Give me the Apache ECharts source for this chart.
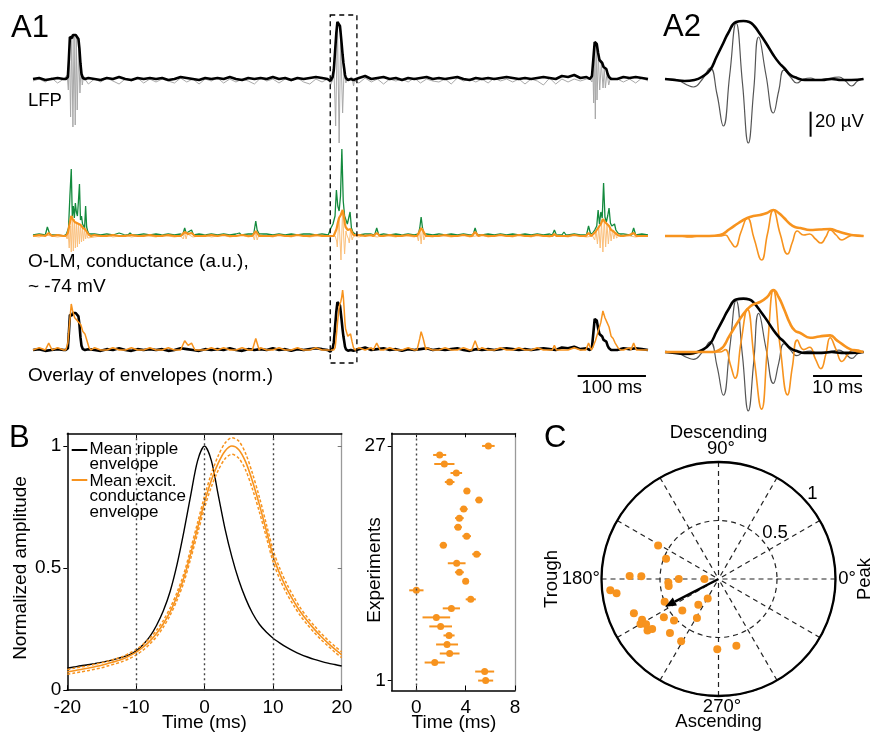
<!DOCTYPE html>
<html>
<head>
<meta charset="utf-8">
<script src="https://cdn.jsdelivr.net/npm/echarts@6.0.0/dist/echarts.min.js"></script>
<style>
html,body{margin:0;padding:0;background:#fff;}
#chart{width:871px;height:732px;}
</style>
</head>
<body>
<div id="chart"></div>
<script>
// ================= DATA =================
// ---- Panel A1 : 900 ms recording, baseline samples every 9 ms ----
const NOISE_STEP = 9;
const lfpEnvNoise = [
  0, 1,-1, 0, 1, 0, 0, 0, 0, 1,
  0,-1, 1, 0, 2, 0,-1, 1, 0, 1,
  0, 1,-1, 0, 2, 1, 0,-1, 1, 0,
  1, 0, 2, 0,-1, 1, 0, 1, 0, 2,
  0, 1,-1, 1, 0, 1, 2, 1, 0, 0,
  0, 0, 0, 1, 3, 0, 1, 2, 0, 1,
 -1, 1, 0, 1, 2, 0, 1, 0, 1, 2,
  0,-1, 1, 0, 1, 0, 1, 2, 1, 0,
  1, 0, 1, 2, 1, 0, 3, 2, 4, 1,
  2, 0, 0, 0, 0, 0, 2, 1, 2, 1,
  0];
const lfpRawNoise = [
 -2, 0,-3, 1,-4, 0, 0, 0, 0,-5,
  0,-3, 1,-2,-5, 0,-2, 1,-4, 0,
 -3, 0,-2,-4, 1,-3, 0,-5, 0,-2,
  1,-4, 0,-3, 0,-2,-5, 1,-2, 0,
 -4, 0,-2, 1,-3,-5, 0,-3, 0, 0,
  0, 0, 0,-4, 1,-3, 0,-5, 0,-2,
  0,-3, 1,-4, 0,-2,-3, 0,-5, 1,
 -2, 0,-3, 0,-4, 1,-2, 0,-3, 0,
 -5, 0,-2,-6, 1,-5, 0,-3, 0,-2,
  0, 0, 0, 0, 0, 0,-3, 0,-4, 1,
 -2];
const gExcNoise = [
  1, 2, 1, 2, 1, 0, 0, 0, 0, 1,
  2, 1, 2, 1, 3, 1, 2, 1, 2, 1,
  2, 1, 2, 1, 2, 2, 1, 2, 1, 2,
  1, 2, 1, 2, 1, 2, 1, 2, 2, 1,
  2, 1, 2, 1, 2, 2, 1, 2, 1, 1,
  2, 1, 2, 1, 2, 2, 1, 2, 1, 2,
  1, 2, 1, 2, 2, 1, 2, 1, 2, 1,
  2, 1, 2, 1, 2, 1, 2, 1, 2, 1,
  2, 1, 2, 1, 2, 1, 2, 1, 2, 1,
  2, 1, 2, 1, 2, 1, 2, 1, 2, 2,
  1];
const gEnvNoise = [
  0, 1, 0, 0, 1, 0, 0, 0, 0, 0,
  1, 0, 0, 1, 0, 0, 1, 0, 0, 1,
  0, 0, 1, 0, 0, 1, 0, 0, 0, 1,
  0, 1, 0, 0, 1, 0, 0, 1, 0, 0,
  1, 0, 0, 1, 0, 0, 1, 0, 0, 0,
  0, 0, 0, 1, 0, 1, 0, 0, 1, 0,
  0, 1, 0, 0, 1, 0, 0, 1, 0, 0,
  1, 0, 0, 1, 0, 0, 1, 0, 0, 1,
  0, 0, 1, 0, 0, 1, 0, 0, 1, 0,
  1, 0, 0, 0, 0, 0, 0, 1, 0, 0,
  0];
const gFiltNoise = [
  0,-1, 1, 0,-1, 0, 0, 0, 0, 1,
 -1, 0, 1,-1, 0, 1,-1, 0, 1, 0,
 -1, 1, 0,-1, 0, 1,-1, 0, 1,-1,
  0, 1,-1, 0, 1,-1, 0, 1, 0,-1,
  1, 0,-1, 1, 0,-1, 0, 1, 0, 0,
  0, 0, 0,-1, 1, 0,-1, 1, 0,-1,
  1, 0,-1, 1, 0,-1, 1, 0,-1, 0,
  1,-1, 0, 1,-1, 0, 1, 0,-1, 1,
  0,-1, 1, 0,-1, 1, 0,-1, 1, 0,
 -1, 0, 0, 0, 0, 0, 1, 0,-1, 0,
  0];

// ripple events in A1 ([ms, a.u.])
const lfpEnvEvents = [
  [[48,0],[51,2],[52.5,20],[54,42],[55.5,44],[57,41],[58.5,44],[60.5,43],[62.5,44],[64.5,43],[66.5,40],[68,30],[69.5,15],[71,5],[73,1],[76,0]],
  [[815,0],[818,3],[820,20],[822,37],[823.5,39],[825,35],[827,26],[829,19],[831,17],[833,16],[835,12],[837,11],[839,10],[841,5],[843,2],[846,0]]
];
const lfpRawEvents = [
  [[47,0],[50,4],[51.7,-11],[53.4,30],[55,-38],[56.7,44],[58.4,-48],[60.1,44],[61.8,-46],[63.3,42],[64.7,-31],[66.7,30],[68.7,-14],[70.4,12],[72.1,-6],[74,3],[76,0]],
  [[815,0],[818,-3],[819.3,10],[820.5,-24],[821.7,30],[822.9,-40],[824.1,36],[825.4,-21],[827.3,24],[829.3,-11],[831.7,16],[834.2,-9],[836,11],[837.6,-9],[840,6],[842.5,-6],[845,1],[847,0]]
];
const gExcEvents = [
  [[19,1],[21,9],[23,10],[25,1]],
  [[49,2],[52,8],[54,40],[56,67],[57.5,20],[59,30],[60.5,18],[62,33],[63.5,24],[65,20],[66.5,35],[68,52],[69.5,16],[71,20],[72.5,12],[74,14],[75.5,8],[77,30],[78.5,9],[80,5],[82,2]],
  [[139,1],[142,3],[145,1]],
  [[219,1],[222,8],[224,3],[227,4],[229,3],[232,6],[235,1]],
  [[299,1],[302,3],[305,1]],
  [[323,2],[326,15],[328,6],[331,2]],
  [[433,2],[436,8],[439,12],[442,20],[444,46],[446,30],[448,25],[450,40],[452,87],[454,35],[456,20],[458,16],[460,12],[462,18],[464,24],[466,8],[468,4],[471,2]],
  [[500,1],[503,8],[506,1]],
  [[564,2],[566,8],[568,19],[570,8],[572,2]],
  [[644,1],[647,8],[650,1]],
  [[760,1],[763,6],[766,1]],
  [[774,1],[777,4],[780,1]],
  [[810,1],[813,10],[816,2]],
  [[819,3],[822,6],[825,10],[827,26],[829,12],[831,24],[833,18],[835,53],[837,19],[839,14],[841,20],[843,28],[845,13],[847,10],[849,8],[851,12],[853,6],[856,3],[859,2]],
  [[876,1],[879,8],[882,1]]
];
const gEnvEvents = [
  [[18,0],[23,3],[28,0]],
  [[48,0],[51,3],[53,10],[56,20],[58,17],[61,14],[64,13],[67,12],[70,11],[73,8],[76,7],[79,4],[82,1],[85,0]],
  [[216,0],[222,4],[227,2],[232,3],[237,0]],
  [[321,0],[326,5],[331,0]],
  [[498,0],[503,3],[508,0]],
  [[562,0],[566,5],[568,8],[571,5],[575,0]],
  [[642,0],[647,4],[652,0]],
  [[760,0],[763,2],[766,0]],
  [[809,0],[813,3],[817,0]],
  [[819,1],[823,4],[827,8],[831,12],[834,17],[837,14],[840,12],[843,10],[846,6],[849,5],[852,3],[856,1],[860,0]],
  [[875,0],[879,3],[883,0]]
];
const gFiltEvents = [
  [[48,0],[50,-3],[51.5,3],[53,-12],[54.5,10],[56,-16],[57.5,20],[59,-15],[60.5,17],[62,-12],[63.5,14],[65,-11],[66.5,13],[68,-8],[69.5,11],[71,-6],[72.5,8],[74,-5],[75.5,7],[77,-3],[78.5,4],[80,-2],[82,0]],
  [[218,0],[220,-3],[222,4],[224,-3],[226,2],[228,0]],
  [[322,0],[324,-4],[326,5],[328,-4],[330,0]],
  [[562,0],[564,-5],[566,6],[568,-8],[570,8],[572,-4],[574,0]],
  [[820,0],[822,-4],[824,5],[826,-8],[828,9],[830,-12],[832,13],[834,-16],[836,17],[838,-11],[840,12],[842,-8],[844,9],[846,-5],[848,6],[850,-3],[852,4],[854,-2],[857,0]]
];

// ---- Panel A2 : zoomed ripple, ms from window start ----
const a2Lfp = [[0,0],[1.5,0],[3,-2],[4.5,-6],[5.8,-8],[7.5,-1],[9.2,11],[10.6,-15],[11.9,-47],[13.2,4],[14.5,56],[15.8,-4],[17.0,-64],[18.1,-11],[19.1,42],[20.6,4],[22.1,-34],[23.2,-12],[24.3,9],[25.6,2],[26.9,-4],[28.3,0],[29.7,1],[31,-1],[32.5,0],[34,1],[35.5,2],[36.8,-2],[38.1,-7],[39.3,-2],[40.5,0]];
const a2LfpEnv = [[0,0],[2,-1],[4,-2],[6,-1],[7.5,2],[9.2,9],[10.5,22],[11.9,36],[12.9,46],[14.5,57],[16,58],[17.2,57],[18.2,53],[19.1,47],[20.6,36],[22.1,24],[23.3,16],[24.3,11],[25.6,4],[26.9,1],[28.5,-1],[30,-1],[32,-1],[34,0],[36,-1],[38,-1],[40.5,0]];
const a2GFilt = [[0,0],[3,0],[5,-1],[7,0],[9,0],[11.2,0],[12.3,1],[13.3,-5],[14.3,-11],[15.5,4],[16.8,18],[18.2,-3],[19.7,-24],[20.9,2],[22.1,26],[23.5,2],[25,-18],[26,-6],[27,5],[28.3,1],[29.5,2],[30.7,-3],[31.8,-7],[32.8,-1],[33.7,6],[34.9,1],[36.1,-4],[37.3,-1],[38.5,1],[40.5,0]];
const a2GEnv = [[0,0],[5,0],[9,0],[11.2,1],[13.2,7],[15,13],[16.8,18],[18,20],[19.4,21],[20.8,23],[22.1,26],[23.2,23],[24.3,18],[25.5,12],[26.5,9],[27.6,8],[29.6,6],[31.5,6.5],[33.7,7],[35,5],[36,3.5],[38,1],[40.5,0]];
const a2Offset = 431;            // ms: where the A2 window sits in A1
const boxWindow = [435, 474];    // ms: dashed box in A1
const scaleBarA1 = [797, 100];   // start, length (ms)
const scaleBarA2 = [30.2, 10];   // start, length (ms)
const uvBar = {t: 29.7, v0: -57.7, len: 25};  // 25 a.u. = 20 µV
const OVL_LFP_GAIN = 0.84, OVL_G_GAIN = 2.3;  // normalisation in overlay rows
const A2_LFP_GAIN = 0.92, A2_G_GAIN = 2.38;

// ---- Panel B ----
const envTime = [-20,-19,-18,-17,-16,-15,-14,-13,-12,-11,-10,-9,-8,-7,-6,-5,-4,-3,-2,-1,0,1,2,3,4,5,6,7,8,9,10,11,12,13,14,15,16,17,18,19,20];
const rippleEnvMean = [0.090,0.095,0.100,0.104,0.109,0.114,0.120,0.127,0.135,0.145,
  0.160,0.185,0.218,0.265,0.325,0.405,0.515,0.650,0.800,0.940,
  1.000,
  0.940,0.800,0.660,0.545,0.450,0.375,0.315,0.270,0.238,0.213,
  0.193,0.175,0.160,0.147,0.136,0.126,0.118,0.111,0.105,0.099];
const gEnvMean = [0.075,0.080,0.085,0.090,0.096,0.102,0.110,0.118,0.127,0.140,
  0.155,0.175,0.200,0.232,0.272,0.322,0.385,0.460,0.560,0.665,
  0.770,
  0.860,0.930,0.980,1.000,0.985,0.935,0.855,0.760,0.655,0.550,
  0.475,0.415,0.365,0.320,0.283,0.250,0.220,0.193,0.168,0.145];
const gEnvCI = [0.010,0.010,0.010,0.010,0.010,0.010,0.010,0.010,0.010,0.011,
  0.011,0.012,0.012,0.013,0.014,0.015,0.016,0.018,0.020,0.022,
  0.024,
  0.027,0.030,0.032,0.034,0.035,0.034,0.032,0.030,0.027,0.024,
  0.022,0.020,0.018,0.016,0.015,0.014,0.013,0.012,0.012,0.012];
const refLinesB = [-10, 0, 10];
const bXTicks = [-20, -10, 0, 10, 20];
const bYTicks = [0, 0.5, 1];

// experiments 1..27: lag (ms) and error
const expLag = [5.62,5.54,1.49,2.70,2.49,2.65,1.97,1.62,2.84,4.41,0.0,4.0,3.49,3.27,4.89,2.19,4.08,3.38,3.49,3.84,5.08,4.10,2.70,3.24,2.27,1.89,5.84];
const expErr = [0.61,0.77,0.82,0.80,0.89,0.45,0.92,1.12,0.70,0.41,0.58,0.23,0.36,0.72,0.36,0.30,0.35,0.31,0.35,0.32,0.30,0.27,0.39,0.47,0.82,0.53,0.51];
const expXTicks = [0, 4, 8];
const expYTicks = [1, 27];

// ---- Panel C ----
const phaseR   = [0.59,0.48,0.76,0.66,0.34,0.43,0.43,0.12,0.93,0.88,0.50,0.19,0.28,0.41,0.78,0.57,0.52,0.38,0.74,0.77,0.75,0.71,0.62,0.62,0.60,0.59,0.73];
const phaseDeg = [151,159,178,178,180,184,188,180,186,188,203,241,232,221,202,215,223,241,208,210,216,217,228,239,269,285,212];
const meanVector = [0.514, 207.4];

// ================= BUILD =================
const FONT = '"Liberation Sans", Arial, Helvetica, sans-serif';
const ORANGE = '#f7931e', ORANGE_LIGHT = '#fbbf7a', GREEN = '#138a3d';

function mergeTrace(noise, events) {
  const out = [];
  noise.forEach((v, i) => {
    const t = i * NOISE_STEP;
    for (const ev of events) { if (t >= ev[0][0] && t <= ev[ev.length - 1][0]) return; }
    out.push([t, v]);
  });
  events.forEach(ev => ev.forEach(p => out.push(p)));
  return out.sort((a, b) => a[0] - b[0]);
}
const shift = (arr, dt) => arr.map(p => [p[0] + dt, p[1]]);

const lfpEnvTrace = mergeTrace(lfpEnvNoise, lfpEnvEvents.concat([shift(a2LfpEnv, a2Offset)]));
const lfpRawTrace = mergeTrace(lfpRawNoise, lfpRawEvents.concat([shift(a2Lfp, a2Offset)]));
const gExcTrace = mergeTrace(gExcNoise, gExcEvents);
const gEnvTrace = mergeTrace(gEnvNoise, gEnvEvents.concat([shift(a2GEnv, a2Offset)]));
const gFiltTrace = mergeTrace(gFiltNoise, gFiltEvents.concat([shift(a2GFilt, a2Offset)]));

function line(data, xi, yi, color, width, extra) {
  return Object.assign({
    type: 'line', xAxisIndex: xi, yAxisIndex: yi, data: data,
    symbol: 'none', showSymbol: false, silent: true, animation: false,
    lineStyle: {color: color, width: width}, itemStyle: {color: color}
  }, extra || {});
}
const hx = (g, min, max) => ({type: 'value', gridIndex: g, min: min, max: max, show: false});
const hy = (g, min, max) => ({type: 'value', gridIndex: g, min: min, max: max, show: false});
const gridBase = {containLabel: false, outerBoundsMode: 'none'};
const labelStyle = {fontSize: 19, color: '#000', fontFamily: FONT};

const grids = [
  {left: 33, top: 0, width: 615, height: 158},
  {left: 33, top: 140, width: 615, height: 192},
  {left: 33, top: 270, width: 615, height: 160},
  {left: 665, top: 0, width: 200, height: 158},
  {left: 665, top: 140, width: 200, height: 192},
  {left: 665, top: 272, width: 200, height: 160},
  {left: 67.3, top: 433.3, width: 274.4, height: 256.9},
  {left: 391.7, top: 433.3, width: 123.3, height: 257.2}
].map(g => Object.assign({}, gridBase, g));

const blackLine = {show: true, onZero: false, lineStyle: {color: '#000', width: 1.5}};
const grayLine = {show: true, onZero: false, lineStyle: {color: '#9a9a9a', width: 1.3}};
const xAxes = [
  hx(0, 0, 900), hx(1, 0, 900), hx(2, 0, 900),
  hx(3, 0, 40.8), hx(4, 0, 40.8), hx(5, 0, 40.8),
  {type: 'value', gridIndex: 6, min: -20, max: 20, position: 'bottom', axisLine: blackLine,
   axisTick: {inside: true, length: 5, customValues: bXTicks, lineStyle: {color: '#000'}},
   axisLabel: Object.assign({customValues: bXTicks, margin: 8}, labelStyle),
   splitLine: {show: false}},
  {type: 'value', gridIndex: 6, min: -20, max: 20, position: 'top', axisLine: blackLine,
   axisTick: {inside: true, length: 5, customValues: refLinesB, lineStyle: {color: '#000'}},
   axisLabel: {show: false}, splitLine: {show: false}},
  {type: 'value', gridIndex: 7, min: -2, max: 8, position: 'bottom', axisLine: blackLine,
   axisTick: {inside: true, length: 5, customValues: expXTicks, lineStyle: {color: '#000'}},
   axisLabel: Object.assign({customValues: expXTicks, margin: 8}, labelStyle),
   splitLine: {show: false}},
  {type: 'value', gridIndex: 7, min: -2, max: 8, position: 'top', axisLine: blackLine,
   axisTick: {inside: true, length: 4, customValues: expXTicks, lineStyle: {color: '#000'}},
   axisLabel: {show: false}, splitLine: {show: false}}
];
const yAxes = [
  hy(0, -79, 79), hy(1, -96, 96),
  hy(2, -80 / OVL_LFP_GAIN, 80 / OVL_LFP_GAIN), hy(2, -80 / OVL_G_GAIN, 80 / OVL_G_GAIN),
  hy(3, -79, 79), hy(4, -96, 96),
  hy(5, -80 / A2_LFP_GAIN, 80 / A2_LFP_GAIN), hy(5, -80 / A2_G_GAIN, 80 / A2_G_GAIN),
  {type: 'value', gridIndex: 6, min: 0, max: 1.052, position: 'left', axisLine: blackLine,
   axisTick: {show: true, inside: false, length: 4, customValues: bYTicks, lineStyle: {color: '#000'}},
   axisLabel: Object.assign({customValues: bYTicks, margin: 6}, labelStyle),
   splitLine: {show: false}},
  {type: 'value', gridIndex: 6, min: 0, max: 1.052, position: 'right', axisLine: grayLine,
   axisTick: {show: true, inside: true, length: 4, customValues: [0.5, 1], lineStyle: {color: '#777'}},
   axisLabel: {show: false}, splitLine: {show: false}},
  {type: 'value', gridIndex: 7, min: -0.1, max: 28.4, position: 'left', axisLine: blackLine,
   axisTick: {show: true, inside: false, length: 4, customValues: expYTicks, lineStyle: {color: '#000'}},
   axisLabel: Object.assign({customValues: expYTicks, margin: 6}, labelStyle),
   splitLine: {show: false}},
  {type: 'value', gridIndex: 7, min: -0.1, max: 28.4, position: 'right', axisLine: grayLine,
   axisTick: {show: false}, axisLabel: {show: false}, splitLine: {show: false}}
];

const dotted = {type: [2, 3], color: '#444', width: 1.4};
const series = [
  // A1
  line(lfpRawTrace, 0, 0, '#a8a8a8', 1),
  line(lfpEnvTrace, 0, 0, '#000', 2.6),
  line(gExcTrace, 1, 1, GREEN, 1.3),
  line(gFiltTrace, 1, 1, ORANGE_LIGHT, 1),
  line(gEnvTrace, 1, 1, ORANGE, 2.2),
  line(lfpEnvTrace, 2, 2, '#000', 2.6),
  line(gEnvTrace, 2, 3, ORANGE, 1.5),
  // A2
  line(a2Lfp, 3, 4, '#555', 1.2, {smooth: 0.5}),
  line(a2LfpEnv, 3, 4, '#000', 2.6, {smooth: 0.5}),
  line(a2GFilt, 4, 5, ORANGE, 1.6, {smooth: 0.5}),
  line(a2GEnv, 4, 5, ORANGE, 2.6, {smooth: 0.5}),
  line(a2Lfp, 5, 6, '#555', 1.2, {smooth: 0.5}),
  line(a2GFilt, 5, 7, ORANGE, 1.6, {smooth: 0.5}),
  line(a2LfpEnv, 5, 6, '#000', 2.6, {smooth: 0.5}),
  line(a2GEnv, 5, 7, ORANGE, 2.6, {smooth: 0.5}),
  // B
  line(envTime.map((t, i) => [t, rippleEnvMean[i]]), 6, 8, '#000', 1.4, {
    smooth: 0.3,
    markLine: {silent: true, symbol: 'none', label: {show: false}, lineStyle: dotted, animation: false,
               data: refLinesB.map(v => ({xAxis: v}))}
  }),
  line(envTime.map((t, i) => [t, gEnvMean[i] + gEnvCI[i]]), 6, 8, ORANGE, 1.5, {smooth: 0.3, lineStyle: {color: ORANGE, width: 1.5, type: [3, 2]}}),
  line(envTime.map((t, i) => [t, gEnvMean[i] - gEnvCI[i]]), 6, 8, ORANGE, 1.5, {smooth: 0.3, lineStyle: {color: ORANGE, width: 1.5, type: [3, 2]}}),
  line(envTime.map((t, i) => [t, gEnvMean[i]]), 6, 8, ORANGE, 1.6, {smooth: 0.3}),
  // Experiments
  {type: 'custom', xAxisIndex: 8, yAxisIndex: 10, silent: true, animation: false,
   data: expLag.map((v, i) => [v, i + 1, expErr[i]]), encode: {x: 0, y: 1},
   renderItem: function (params, api) {
     const x = api.value(0), y = api.value(1), e = api.value(2);
     const a = api.coord([x - e, y]), b = api.coord([x + e, y]);
     return {type: 'line', shape: {x1: a[0], y1: a[1], x2: b[0], y2: b[1]}, style: {stroke: ORANGE, lineWidth: 2}};
   }},
  {type: 'scatter', xAxisIndex: 8, yAxisIndex: 10, silent: true, animation: false,
   data: expLag.map((v, i) => [v, i + 1]), symbolSize: 7, itemStyle: {color: ORANGE, opacity: 1},
   markLine: {silent: true, symbol: 'none', label: {show: false}, lineStyle: dotted, animation: false, data: [{xAxis: 0}]}},
  // C
  {type: 'scatter', coordinateSystem: 'polar', polarIndex: 0, silent: true, animation: false,
   data: phaseR.map((r, i) => [r, phaseDeg[i]]), symbolSize: 8, itemStyle: {color: ORANGE, opacity: 1}},
  {type: 'custom', coordinateSystem: 'polar', polarIndex: 0, silent: true, animation: false, z: 5,
   data: [meanVector],
   renderItem: function (params, api) {
     const p0 = api.coord([0, 0]);
     const p1 = api.coord([api.value(0), api.value(1)]);
     const dx = p1[0] - p0[0], dy = p1[1] - p0[1], L = Math.hypot(dx, dy);
     const ux = dx / L, uy = dy / L, head = 11, half = 4.5;
     const bx = p1[0] - ux * head, by = p1[1] - uy * head;
     return {type: 'group', children: [
       {type: 'line', shape: {x1: p0[0], y1: p0[1], x2: bx, y2: by}, style: {stroke: '#000', lineWidth: 2.5}},
       {type: 'polygon', shape: {points: [[p1[0], p1[1]], [bx - uy * half, by + ux * half], [bx + uy * half, by - ux * half]]}, style: {fill: '#000'}}
     ]};
   }}
];

const option = {
  animation: false,
  backgroundColor: '#fff',
  textStyle: {fontFamily: FONT},
  grid: grids,
  xAxis: xAxes,
  yAxis: yAxes,
  polar: {center: [718.5, 579], radius: 117},
  angleAxis: {type: 'value', polarIndex: 0, min: 0, max: 360, interval: 30, startAngle: 0, clockwise: false,
    axisLine: {lineStyle: {color: '#000', width: 2.3}}, axisTick: {show: false}, axisLabel: {show: false},
    splitLine: {show: true, lineStyle: {type: [5, 4], color: '#222', width: 1.2}}},
  radiusAxis: {type: 'value', polarIndex: 0, min: 0, max: 1, interval: 0.5,
    axisLine: {show: false}, axisTick: {show: false}, axisLabel: {show: false},
    splitLine: {show: true, lineStyle: {type: [5, 4], color: '#222', width: 1.2}}},
  series: series
};

const chart = echarts.init(document.getElementById('chart'), null, {renderer: 'canvas'});
chart.setOption(option);

// ---- annotations (positions derived from the axes where they denote data) ----
const px = (ax, v) => chart.convertToPixel({xAxisIndex: ax}, v);
const py = (ax, v) => chart.convertToPixel({yAxisIndex: ax}, v);
function txt(text, x, y, size, align, rot) {
  return {type: 'text', x: x, y: y, rotation: rot || 0, z: 100,
    style: {text: text, fontSize: size, fontFamily: FONT, fill: '#000', align: align || 'left', verticalAlign: 'middle'}};
}
function seg(x1, y1, x2, y2, color, w, dash) {
  return {type: 'line', z: 100, shape: {x1: x1, y1: y1, x2: x2, y2: y2},
    style: {stroke: color, lineWidth: w, lineDash: dash || null}};
}
const R90 = Math.PI / 2;
const bx0 = px(0, boxWindow[0]), bx1 = px(0, boxWindow[1]);
const graphics = [
  {type: 'rect', z: 100, shape: {x: bx0, y: 15, width: bx1 - bx0, height: 348},
   style: {fill: 'none', stroke: '#000', lineWidth: 1.3, lineDash: [5, 4]}},
  seg(px(2, scaleBarA1[0]), 376, px(2, scaleBarA1[0] + scaleBarA1[1]), 376, '#000', 2),
  seg(px(5, scaleBarA2[0]), 376, px(5, scaleBarA2[0] + scaleBarA2[1]), 376, '#000', 2),
  seg(px(3, uvBar.t), py(4, uvBar.v0), px(3, uvBar.t), py(4, uvBar.v0 + uvBar.len), '#000', 2),
  txt('A1', 11, 28.5, 31),
  txt('A2', 663, 27.5, 31),
  txt('LFP', 28, 100.5, 18.5),
  txt('O-LM, conductance (a.u.),', 28, 262, 19),
  txt('~ -74 mV', 28, 286.5, 19),
  txt('Overlay of envelopes (norm.)', 28, 375.5, 19),
  txt('100 ms', (px(2, scaleBarA1[0]) + px(2, scaleBarA1[0] + scaleBarA1[1])) / 2, 387.5, 18.5, 'center'),
  txt('10 ms', (px(5, scaleBarA2[0]) + px(5, scaleBarA2[0] + scaleBarA2[1])) / 2, 387.5, 18.5, 'center'),
  txt('20 µV', 815, 121.7, 18.5),
  txt('B', 9, 438.3, 31),
  txt('C', 544, 438.3, 31),
  // legend B
  seg(71.7, 450, 87.3, 450, '#000', 2),
  seg(71.7, 480, 87.3, 480, ORANGE, 2),
  txt('Mean ripple', 89.5, 449, 17),
  txt('envelope', 89.5, 464.5, 17),
  txt('Mean excit.', 89.5, 481, 17),
  txt('conductance', 89.5, 496.5, 17),
  txt('envelope', 89.5, 512, 17),
  txt('Normalized amplitude', 21, 568, 19, 'center', R90),
  txt('Time (ms)', 204.5, 723, 19, 'center'),
  txt('Experiments', 375, 570, 19, 'center', R90),
  txt('Time (ms)', 454, 723, 19, 'center'),
  // polar labels
  txt('Descending', 718.5, 432.5, 18.5, 'center'),
  txt('90°', 721, 448.5, 18.5, 'center'),
  txt('270°', 722, 706.7, 18.5, 'center'),
  txt('Ascending', 718.5, 722, 18.5, 'center'),
  txt('180°', 600, 578.5, 18.5, 'right'),
  txt('0°', 838.3, 578.5, 18.5, 'left'),
  txt('Trough', 552, 579, 18.5, 'center', R90),
  txt('Peak', 864.5, 579, 18.5, 'center', R90),
  txt('1', 812.5, 494, 18.5, 'center'),
  txt('0.5', 775, 533, 18.5, 'center')
];
chart.setOption({graphic: {elements: graphics}});
</script>
</body>
</html>
